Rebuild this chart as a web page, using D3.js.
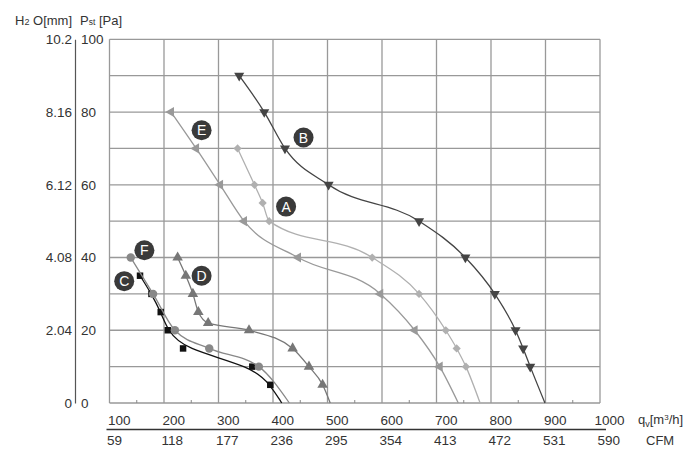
<!DOCTYPE html>
<html>
<head>
<meta charset="utf-8">
<script src="https://cdn.jsdelivr.net/npm/d3@7"></script>
<style>
  body { margin: 0; background: #fff; }
  svg { font-family: "Liberation Sans", Arial, sans-serif; }
</style>
</head>
<body>
<svg width="700" height="465"></svg>
<script>
// fan curves, flow qv [m3/h] vs static pressure [Pa]
var flowTicks = [100, 200, 300, 400, 500, 600, 700, 800, 900, 1000];
var cfmLabels = ["59", "118", "177", "236", "295", "354", "413", "472", "531", "590"];
var paTicks = [0, 20, 40, 60, 80, 100];
var h2oLabels = ["0", "2.04", "4.08", "6.12", "8.16", "10.2"];

var flowA = [335, 366, 381, 393, 582, 668, 717, 737, 754, 780];
var presA = [70, 60, 55, 50, 40, 30, 20, 15, 10, 0];
var flowB = [338, 384, 422, 502, 668, 753, 807, 845, 859, 872, 899];
var presB = [90, 80, 70, 60, 50, 40, 30, 20, 15, 10, 0];
var flowC = [156, 177, 194, 207, 235, 362, 395, 416];
var presC = [35, 30, 25, 20, 15, 10, 5, 0];
var flowD = [225, 240, 253, 263, 281, 356, 436, 466, 491, 505];
var presD = [40, 35, 30, 25, 22, 20, 15, 10, 5, 0];
var flowE = [213, 259, 303, 347, 446, 597, 660, 706, 740];
var presE = [80, 70, 60, 50, 40, 30, 20, 10, 0];
var flowF = [139, 180, 220, 283, 374, 430];
var presF = [40, 30, 20, 15, 10, 0];

var curveNames = ["A", "B", "C", "D", "E", "F"];
var labelFlow = [424, 456, 127, 269, 269, 164];
var labelPres = [54, 73, 33.5, 35, 75, 42];

var svg = d3.select("svg");

var x = d3.scaleLinear().domain([100, 1000]).range([109.5, 600]);
var y = d3.scaleLinear().domain([0, 100]).range([403, 39.3]);

var grid = svg.append("g").attr("stroke", "#999").attr("stroke-width", 1.3);

grid.selectAll("line.v")
  .data(flowTicks)
  .enter().append("line")
  .attr("x1", function(d) { return x(d); })
  .attr("x2", function(d) { return x(d); })
  .attr("y1", y(0))
  .attr("y2", y(100));

grid.selectAll("line.h")
  .data(d3.range(0, 101, 10))
  .enter().append("line")
  .attr("x1", x(100))
  .attr("x2", x(1000))
  .attr("y1", function(d) { return y(d); })
  .attr("y2", function(d) { return y(d); });

// minor ticks on the flow axis
svg.append("g")
  .selectAll("line")
  .data(d3.range(150, 1000, 100))
  .enter().append("line")
  .attr("x1", function(d) { return x(d); })
  .attr("x2", function(d) { return x(d); })
  .attr("y1", y(0))
  .attr("y2", y(0) - 3)
  .attr("stroke", "#888")
  .attr("stroke-width", 1);

// axes
var xAxis = svg.append("g")
  .attr("transform", "translate(0," + y(0) + ")")
  .call(d3.axisBottom(x).tickValues(flowTicks).tickSize(0).tickPadding(12)
    .tickFormat(function(d) { return String(d); }));
xAxis.select(".domain").remove();
xAxis.selectAll("text")
  .attr("text-anchor", "start")
  .attr("dx", function(d, i) { return i == flowTicks.length - 1 ? -6 : -2; });

var cfmAxis = svg.append("g")
  .attr("transform", "translate(0,429)")
  .call(d3.axisBottom(x).tickValues(flowTicks).tickSize(0).tickPadding(6)
    .tickFormat(function(d, i) { return cfmLabels[i]; }));
cfmAxis.select(".domain").remove();
cfmAxis.selectAll("text")
  .attr("text-anchor", "start")
  .attr("dx", -3);

svg.append("line")
  .attr("x1", x(100) - 3)
  .attr("x2", x(1000) + 6)
  .attr("y1", 429.5)
  .attr("y2", 429.5)
  .attr("stroke", "#333")
  .attr("stroke-width", 1.4);

var paAxis = svg.append("g")
  .attr("transform", "translate(78,0)")
  .call(d3.axisRight(y).tickValues(paTicks).tickSize(0).tickPadding(3));
paAxis.select(".domain").remove();

var h2oAxis = svg.append("g")
  .attr("transform", "translate(75,0)")
  .call(d3.axisLeft(y).tickValues(paTicks).tickSize(0).tickSizeOuter(0).tickPadding(3)
    .tickFormat(function(d, i) { return h2oLabels[i]; }));
h2oAxis.select(".domain").attr("stroke", "#555").attr("stroke-width", 1.2);

svg.selectAll(".tick text")
  .attr("fill", "#333")
  .style("font-size", "13.5px");

// axis titles
var t1 = svg.append("text").attr("x", 15).attr("y", 25).attr("fill", "#333").style("font-size", "13px");
t1.append("tspan").text("H");
t1.append("tspan").text("2").style("font-size", "9px");
t1.append("tspan").text(" O[mm]");

var t2 = svg.append("text").attr("x", 80).attr("y", 25).attr("fill", "#333").style("font-size", "13px");
t2.append("tspan").text("P");
t2.append("tspan").text("st").style("font-size", "8.5px");
t2.append("tspan").text(" [Pa]");

var t3 = svg.append("text").attr("x", 638).attr("y", 424).attr("fill", "#333").style("font-size", "13px");
t3.append("tspan").text("q");
t3.append("tspan").text("v").attr("dy", 3).style("font-size", "9px");
t3.append("tspan").text("[m").attr("dy", -3);
t3.append("tspan").text("3").attr("dy", -4).style("font-size", "8px");
t3.append("tspan").text("/h]").attr("dy", 4);

svg.append("text").attr("x", 646).attr("y", 445).attr("fill", "#333")
  .style("font-size", "13px").text("CFM");

// curves
var series = [
  { name: "A", flow: flowA, pres: presA, color: "#b0b0b0", shape: d3.symbolSquare, size: 34, rot: 45, curve: d3.curveMonotoneX },
  { name: "B", flow: flowB, pres: presB, color: "#444444", shape: d3.symbolTriangle, size: 44, rot: 180, curve: d3.curveMonotoneX },
  { name: "C", flow: flowC, pres: presC, color: "#111111", shape: d3.symbolSquare, size: 42, rot: 0, curve: d3.curveBasis },
  { name: "D", flow: flowD, pres: presD, color: "#777777", shape: d3.symbolTriangle, size: 48, rot: 0, curve: d3.curveMonotoneX },
  { name: "E", flow: flowE, pres: presE, color: "#999999", shape: d3.symbolTriangle, size: 44, rot: -90, curve: d3.curveMonotoneX },
  { name: "F", flow: flowF, pres: presF, color: "#888888", shape: d3.symbolCircle, size: 56, rot: 0, curve: d3.curveMonotoneX }
];

series.forEach(function(s) {
  var pts = s.flow.map(function(f, i) { return [f, s.pres[i]]; });

  var line = d3.line()
    .x(function(d) { return x(d[0]); })
    .y(function(d) { return y(d[1]); })
    .curve(s.curve);

  svg.append("path")
    .datum(pts)
    .attr("d", line)
    .attr("fill", "none")
    .attr("stroke", s.color)
    .attr("stroke-width", 1.3);

  svg.append("g")
    .selectAll("path")
    .data(pts.filter(function(d) { return d[1] > 0; }))
    .enter().append("path")
    .attr("d", d3.symbol().type(s.shape).size(s.size))
    .attr("transform", function(d) {
      return "translate(" + x(d[0]) + "," + y(d[1]) + ") rotate(" + s.rot + ")";
    })
    .attr("fill", s.color);
});

// curve letters
var tags = svg.append("g")
  .selectAll("g")
  .data(curveNames)
  .enter().append("g")
  .attr("transform", function(d, i) {
    return "translate(" + x(labelFlow[i]) + "," + y(labelPres[i]) + ")";
  });

tags.append("circle")
  .attr("r", 10)
  .attr("fill", "#3a3a3a");

tags.append("text")
  .attr("text-anchor", "middle")
  .attr("dy", "0.36em")
  .attr("fill", "#fff")
  .style("font-size", "14px")
  .text(function(d) { return d; });
</script>
</body>
</html>
